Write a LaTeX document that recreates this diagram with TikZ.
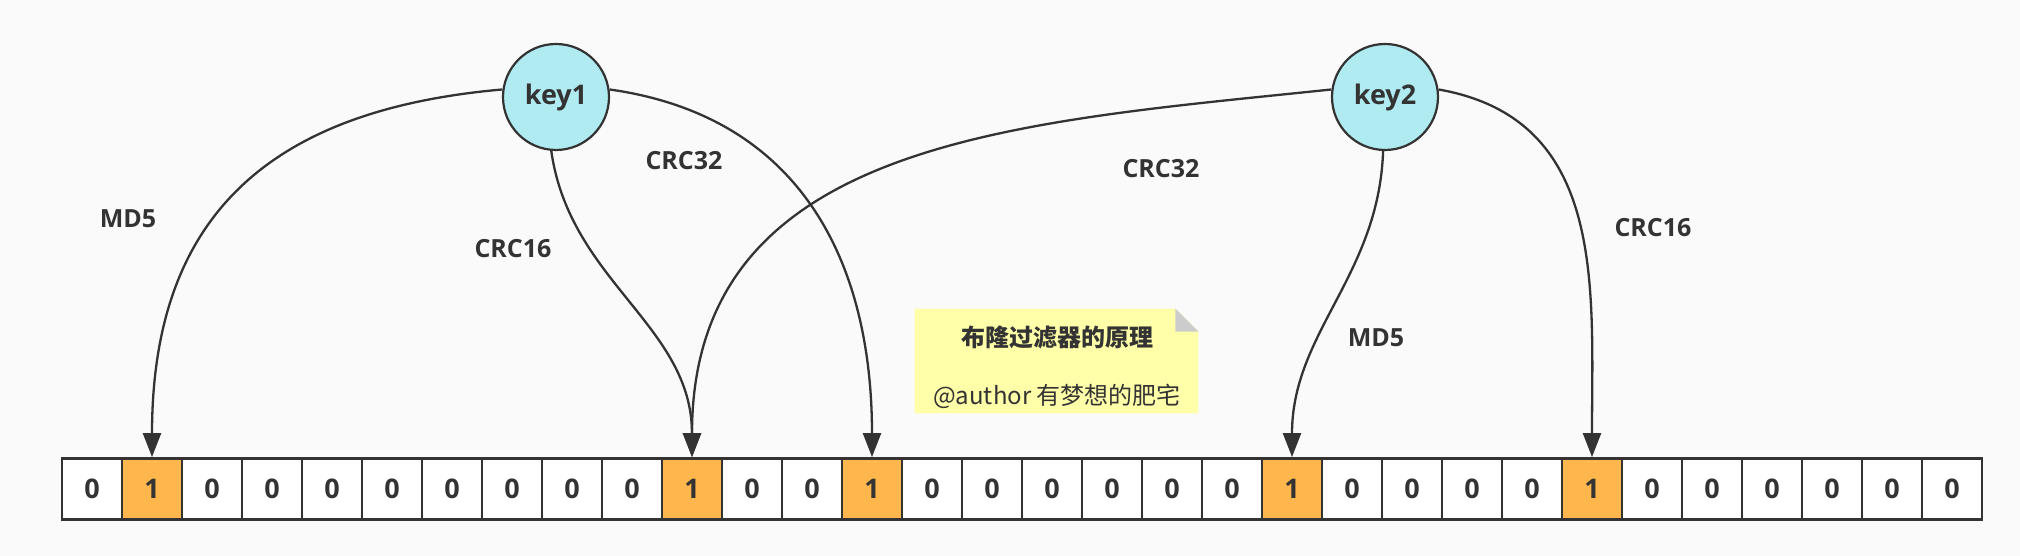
\documentclass[tikz,border=0pt]{standalone}
\usepackage{fontspec}
\setmainfont{Open Sans}
\newfontfamily\cjk{Noto Sans CJK SC}
\usepackage{tikz}
\usetikzlibrary{positioning,calc,arrows.meta}
\definecolor{ink}{HTML}{333333}
\definecolor{paper}{HTML}{FAFAFA}
\definecolor{keycyan}{HTML}{B1EBF2}
\definecolor{bitorange}{HTML}{FFB74D}
\definecolor{noteyellow}{HTML}{FFFFAA}
\definecolor{foldgrey}{HTML}{CCCCCC}

\begin{document}
\begin{tikzpicture}[x=0.5pt,y=0.5pt,
    bit/.style={draw=ink,line width=1.4pt,minimum width=30pt,minimum height=30.5pt,inner sep=0pt,text=ink,font=\fontsize{13.5}{15}\selectfont\bfseries},
    keynode/.style={circle,draw=ink,fill=keycyan,line width=1.1pt,minimum size=53pt,inner sep=0pt,text=ink,font=\fontsize{13.5}{16}\selectfont\bfseries},
    hashlabel/.style={text=ink,font=\fontsize{12.5}{15}\selectfont\bfseries},
    notebox/.style={minimum width=141.5pt,minimum height=52pt,inner sep=0pt},
    arr/.style={-{Triangle[length=12pt,width=9pt]},ink,line width=1.15pt}]
    \fill[paper] (0,0) rectangle (2020,556);
    \useasboundingbox (0,0) rectangle (2020,556);
    % the bit array
    \foreach \b [count=\i from 0] in {0,1,0,0,0,0,0,0,0,0,1,0,0,1,0,0,0,0,0,0,1,0,0,0,0,1,0,0,0,0,0,0}{
        \ifnum\b=1 \def\bitfill{bitorange}\else\def\bitfill{white}\fi
        \node[bit,fill=\bitfill] (c\i) at ({92+60*\i},67) {\b};
    }
    \node[keynode] (key1) at (556,459) {key1};
    \node[keynode] (key2) at (1385,459) {key2};
    % hash functions
    \draw[arr] (key1.172) to[out=185,in=90,looseness=1.2] (c1.north);
    \draw[arr] (key1.265) to[out=-82,in=90] (c10.north);
    \draw[arr] (key1.8) to[out=-8,in=90,looseness=1.1] (c13.north);
    \draw[arr] (key2.172) to[out=186,in=90,looseness=1.1] (c10.north);
    \draw[arr] (key2.268) to[out=-92,in=90] (c20.north);
    \draw[arr] (key2.8) to[out=-10,in=90,looseness=1.1] (c25.north);
    \node[hashlabel] (h1) at (128,337.5) {MD5};
    \node[hashlabel] (h2) at (513,307) {CRC16};
    \node[hashlabel] (h3) at (684,395) {CRC32};
    \node[hashlabel] (h4) at (1161,387) {CRC32};
    \node[hashlabel] (h5) at (1376,218.5) {MD5};
    \node[hashlabel] (h6) at (1653,328) {CRC16};
    % note
    \node[notebox] (note) at (1056.5,195) {};
    \fill[noteyellow] (note.south west) |- ($(note.north east)+(-23,0)$) -- ($(note.north east)+(0,-23)$) |- cycle;
    \fill[foldgrey] ($(note.north east)+(-23,0)$) -- ($(note.north east)+(0,-23)$) -- ($(note.north east)+(-23,-23)$) -- cycle;
    \node[text=ink,font=\cjk\bfseries\fontsize{12}{14}\selectfont] (title) at (1057,219) {布隆过滤器的原理};
    \node[text=ink,font=\cjk\fontsize{12}{14}\selectfont] (author) at (1057,160) {@author 有梦想的肥宅};
  \end{tikzpicture}
\end{document}
